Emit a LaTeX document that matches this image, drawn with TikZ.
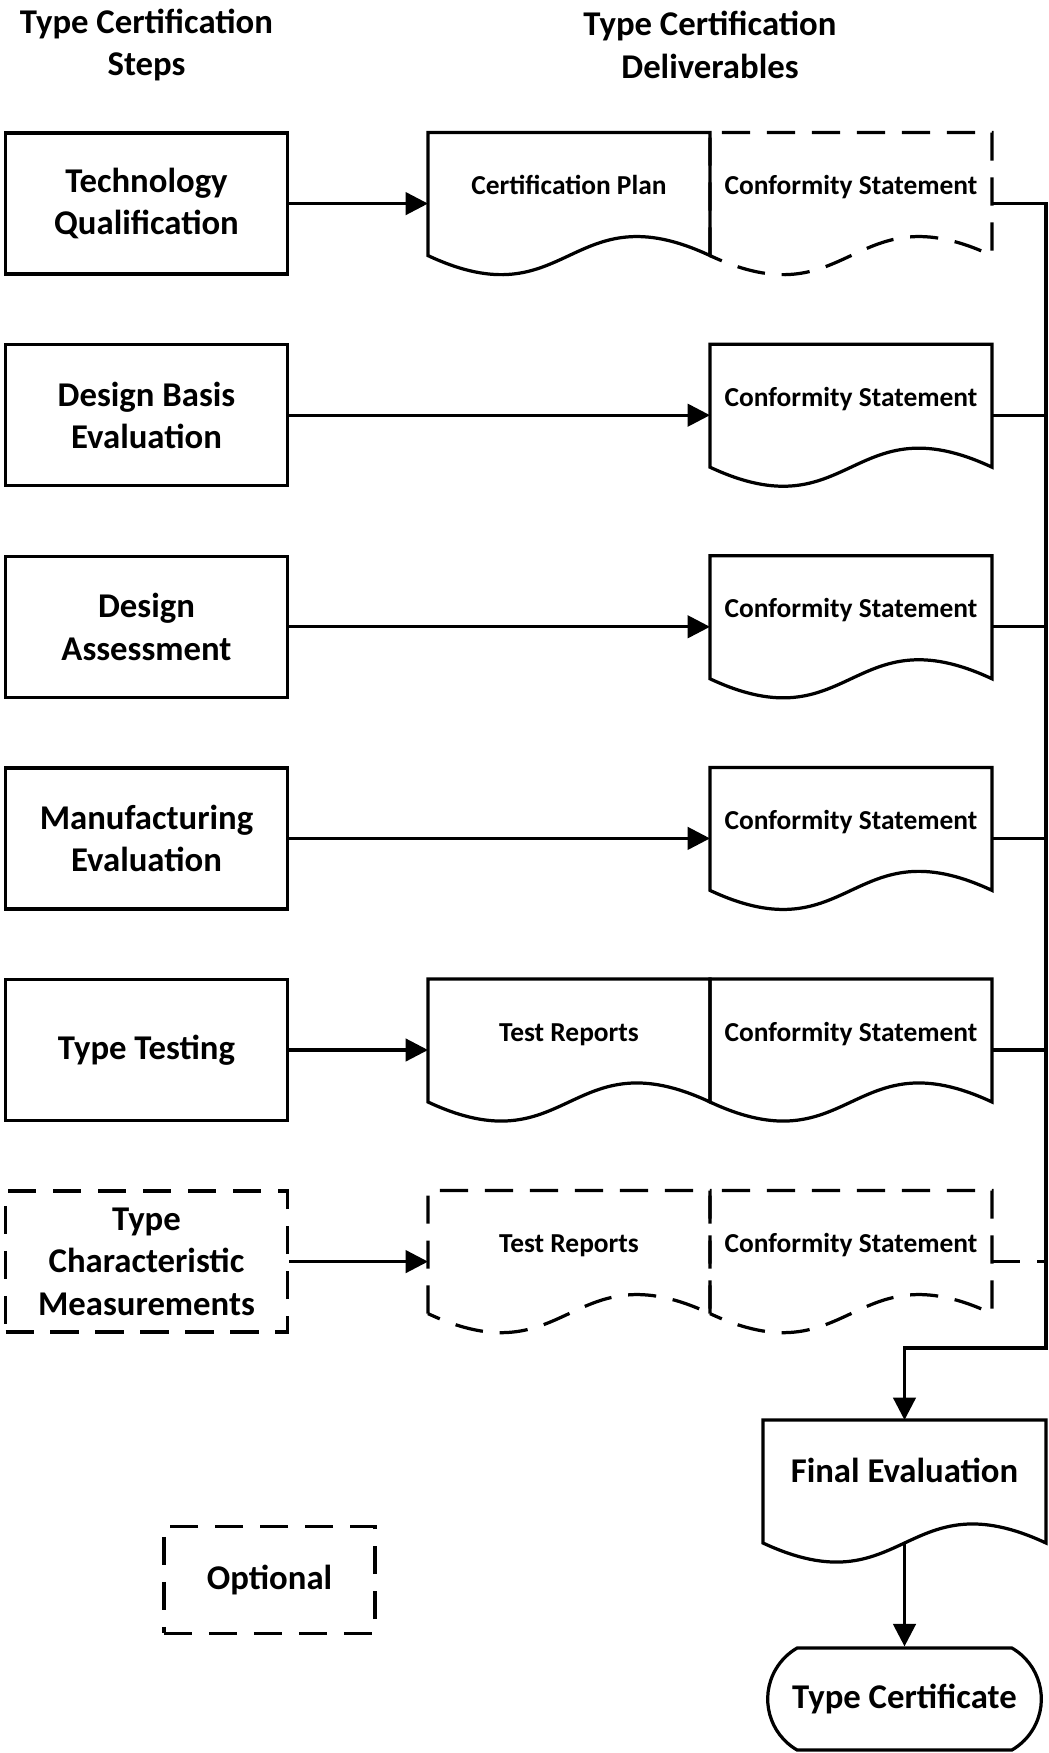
\documentclass[tikz,border=0pt]{standalone}
\usepackage{fontspec}
\setmainfont{Carlito}
\usepackage{tikz}
\usetikzlibrary{shapes.misc}
\usetikzlibrary{arrows.meta}
\usetikzlibrary{calc}
\newcommand{\bigtxt}{\fontsize{24.7}{30.2}\selectfont\bfseries}
\newcommand{\smalltxt}{\fontsize{19.5}{23.5}\selectfont\bfseries}
% outline of a document shape around a (borderless) node
\newcommand{\docoutline}[2][]{%
  \draw[#1] ($(#2.south west)+(0,0.475)$) -- (#2.north west) -- (#2.north east) -- ($(#2.south east)+(0,0.475)$)
    .. controls ($(#2.south)+(0,2.125)$) and ($(#2.south)+(0,-1.175)$) .. ($(#2.south west)+(0,0.475)$) -- cycle;}

\begin{document}
\begin{tikzpicture}[line width=2.3pt,
    stepbox/.style={draw, minimum width=7.05cm, minimum height=3.525cm, inner sep=2pt, align=center, font=\bigtxt},
    docu/.style={minimum width=7.05cm, minimum height=3.55cm, inner sep=0pt, outer sep=0pt, text height=0.8cm, text depth=1.25cm, font=\smalltxt},
    optional/.style={dash pattern=on 20pt off 12pt},
    arr/.style={-{Triangle[length=16pt,width=16pt]}}]

    \useasboundingbox (0,0) rectangle (26.2,-43.825);

    % column headings
    \node[align=center, font=\bigtxt] (hsteps) at (3.6625,-1.12) {Type Certification\\Steps};
    \node[align=center, font=\bigtxt] (hdeliv) at (17.75,-1.12) {Type Certification\\Deliverables};

    % steps
    \node[stepbox] (tq) at (3.6625,-5.09) {Technology\\Qualification};
    \node[stepbox] (dbe) at (3.6625,-10.38) {Design Basis\\Evaluation};
    \node[stepbox] (da) at (3.6625,-15.67) {Design\\Assessment};
    \node[stepbox] (me) at (3.6625,-20.96) {Manufacturing\\Evaluation};
    \node[stepbox] (tt) at (3.6625,-26.25) {Type Testing};
    \node[stepbox, optional] (tcm) at (3.6625,-31.54) {Type\\Characteristic\\Measurements};

    % deliverables
    \node[docu] (cp) at (14.225,-5.09) {Certification Plan};
    \node[docu] (cs1) at (21.275,-5.09) {Conformity Statement};
    \node[docu] (cs2) at (21.275,-10.38) {Conformity Statement};
    \node[docu] (cs3) at (21.275,-15.67) {Conformity Statement};
    \node[docu] (cs4) at (21.275,-20.96) {Conformity Statement};
    \node[docu] (tr5) at (14.225,-26.25) {Test Reports};
    \node[docu] (cs5) at (21.275,-26.25) {Conformity Statement};
    \node[docu] (tr6) at (14.225,-31.54) {Test Reports};
    \node[docu] (cs6) at (21.275,-31.54) {Conformity Statement};

    \docoutline{cp}
    \docoutline[optional]{cs1}
    \docoutline{cs2}
    \docoutline{cs3}
    \docoutline{cs4}
    \docoutline{tr5}
    \docoutline{cs5}
    \docoutline[optional]{tr6}
    \docoutline[optional]{cs6}

    % final steps
    \node[docu, minimum width=7.075cm, font=\bigtxt] (fe) at (22.6125,-37.275) {Final Evaluation};
    \docoutline{fe}
    \node[draw, rounded rectangle, rounded rectangle arc length=120, minimum width=7.075cm, minimum height=2.55cm, font=\bigtxt] (tc) at (22.6125,-42.475) {Type Certificate};

    \node[draw, optional, minimum width=5.275cm, minimum height=2.675cm, font=\bigtxt] (opt) at (6.7375,-39.49) {Optional};

    % arrows
    \draw[arr] (tq.east) -- (cp.west);
    \draw[arr] (dbe.east) -- (cs2.west);
    \draw[arr] (da.east) -- (cs3.west);
    \draw[arr] (me.east) -- (cs4.west);
    \draw[arr] (tt.east) -- (tr5.west);
    \draw[arr] (tcm.east) -- (tr6.west);

    \coordinate (bend) at (26.15,-33.7);
    \draw[arr] (cs1.east) -| (bend) -| (fe.north);
    \draw (cs2.east) -- (cs2.east -| bend);
    \draw (cs3.east) -- (cs3.east -| bend);
    \draw (cs4.east) -- (cs4.east -| bend);
    \draw (cs5.east) -- (cs5.east -| bend);
    \draw[optional] (cs6.east) -- (cs6.east -| bend);
    \draw[arr] ($(fe.south)+(0,0.475)$) -- (tc.north);

\end{tikzpicture}
\end{document}
